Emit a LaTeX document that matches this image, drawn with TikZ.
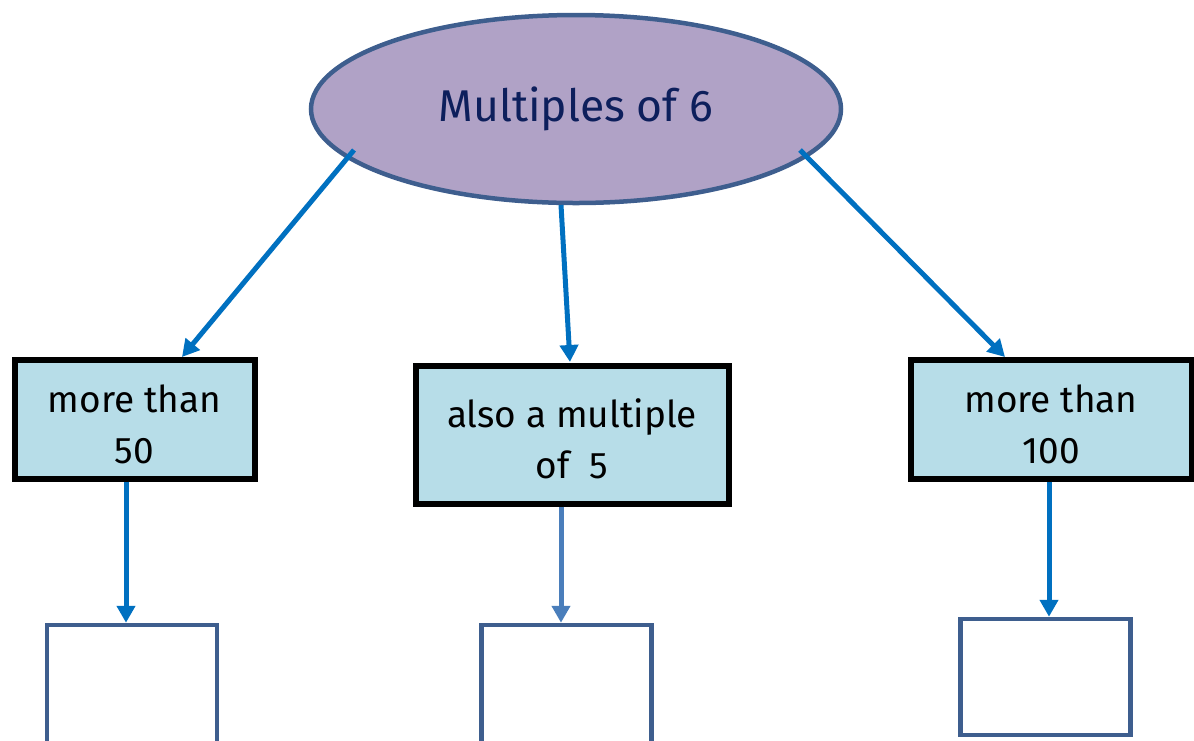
\documentclass[tikz,border=0pt]{standalone}
\usepackage{fontspec}
\setmainfont{Fira Sans}
\usetikzlibrary{shapes.geometric,arrows.meta}
\definecolor{ellfill}{HTML}{B0A2C6}
\definecolor{ellline}{HTML}{3E5E8E}
\definecolor{navytext}{HTML}{0D1F5C}
\definecolor{boxfill}{HTML}{B7DDE8}
\definecolor{arrowblue}{HTML}{0070C0}
\definecolor{arrowlight}{HTML}{4A7EBB}
\newcommand{\lowertext}{\rule{0pt}{38pt}}
\begin{document}
\begin{tikzpicture}[x=1pt,y=-1pt,
  topell/.style={ellipse,draw=ellline,fill=ellfill,line width=4.5pt,inner sep=0pt,
    minimum width=530pt,minimum height=188pt,text=navytext,
    font=\fontsize{44.5}{50}\selectfont},
  catbox/.style={rectangle,draw=black,fill=boxfill,line width=6pt,inner sep=0pt,
    align=center,font=\fontsize{37}{51}\selectfont},
  emptybox/.style={rectangle,draw=ellline,fill=white,line width=4.5pt,inner sep=0pt,
    minimum width=170pt},
  conn/.style={draw=arrowblue,line width=5pt,
    -{Triangle[width=18pt,length=17pt]}},
  connlight/.style={conn,draw=arrowlight}
]
\useasboundingbox (0,0) rectangle (1194,740);
\clip (0,0) rectangle (1194,740);
\node[topell] (top) at (576,109) {Multiples of 6};
\node[catbox,minimum width=240pt,minimum height=119pt] (b1) at (134.5,419)
  {\lowertext more than\\50};
\node[catbox,minimum width=313pt,minimum height=138pt] (b2) at (572,434.5)
  {\lowertext also a multiple\\of~~5};
\node[catbox,minimum width=281pt,minimum height=119pt] (b3) at (1051,419)
  {\lowertext more than\\100};
\node[emptybox,minimum height=150pt] (e1) at (132,700) {};
\node[emptybox,minimum height=150pt] (e2) at (566.5,700) {};
\node[emptybox,minimum height=116pt] (e3) at (1045.5,677) {};
\coordinate (s1) at (354,150);
\coordinate (s2) at (561,205);
\coordinate (s3) at (800,150);
\coordinate (t1) at (182,357);
\coordinate (t2) at (570,362);
\coordinate (t3) at (1005,357);
\draw[conn] (s1) -- (t1);
\draw[conn] (s2) -- (t2);
\draw[conn] (s3) -- (t3);
\draw[conn] (b1.south -| 126,0) -- (e1.north -| 126,0);
\draw[connlight] (b2.south -| 561,0) -- (e2.north -| 561,0);
\draw[conn] (b3.south -| 1049,0) -- (e3.north -| 1049,0);
\end{tikzpicture}
\end{document}
